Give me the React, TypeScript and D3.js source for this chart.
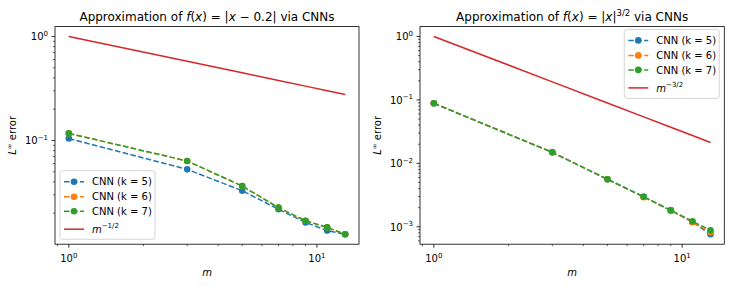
import React from 'react';
import * as d3 from 'd3';

// sample sizes m
const mValues = [1, 3, 5, 7, 9, 11, 13];

// |x - 0.2| errors
const absK5 = [0.1045, 0.0528, 0.0329, 0.0218, 0.0163, 0.0136, 0.01253];
const absK6 = [0.117, 0.0635, 0.0365, 0.0226, 0.0169, 0.0146, 0.01253];
const absK7 = [0.117, 0.0635, 0.0365, 0.0226, 0.0169, 0.0146, 0.01253];

// |x|^{3/2} errors
const powK5 = [0.0883, 0.0149, 0.0056, 0.00297, 0.00181, 0.00119, 0.00076];
const powK6 = [0.0883, 0.0149, 0.0056, 0.00292, 0.00181, 0.00118, 0.00082];
const powK7 = [0.0883, 0.0149, 0.0056, 0.00297, 0.00181, 0.00122, 0.000877];

const seriesLabels = ['CNN (k = 5)', 'CNN (k = 6)', 'CNN (k = 7)'];
const seriesColors = ['#1f77b4', '#ff7f0e', '#2ca02c'];
const refColor = '#d62728';

const FONT = 'DejaVu Sans, sans-serif';

type PanelProps = {
  left: number;
  right: number;
  series: number[][];
  rate: number;
  rateLabel: string;
  title: React.ReactNode;
  legendPos: 'lower left' | 'upper right';
};

const TOP = 26.6;
const BOTTOM = 244.2;

const logExtent = (vals: number[]): [number, number] => {
  const lo = Math.log10(d3.min(vals)!);
  const hi = Math.log10(d3.max(vals)!);
  const pad = (hi - lo) * 0.05;
  return [Math.pow(10, lo - pad), Math.pow(10, hi + pad)];
};

const logTicks = (domain: [number, number]) => {
  const major: number[] = [];
  const minor: number[] = [];
  const d0 = Math.floor(Math.log10(domain[0]));
  const d1 = Math.ceil(Math.log10(domain[1]));
  for (let d = d0; d <= d1; d++) {
    const base = Math.pow(10, d);
    if (base >= domain[0] && base <= domain[1]) major.push(d);
    for (let k = 2; k <= 9; k++) {
      const v = k * base;
      if (v >= domain[0] && v <= domain[1]) minor.push(v);
    }
  }
  return { major, minor };
};

const Pow10: React.FC<{ e: number; x: number; y: number; anchor: string }> = ({ e, x, y, anchor }) => (
  <text x={x} y={y} textAnchor={anchor} fontSize={10} fontFamily={FONT} fill="#000">
    10
    <tspan dy={-4.5} fontSize={7}>{e < 0 ? `\u2212${-e}` : `${e}`}</tspan>
  </text>
);

const Panel: React.FC<PanelProps> = ({ left, right, series, rate, rateLabel, title, legendPos }) => {
  const refVals = mValues.map((m) => Math.pow(m, -rate));
  const xDomain = logExtent(mValues);
  const yDomain = logExtent([...series.flat(), ...refVals]);
  const x = d3.scaleLog().domain(xDomain).range([left, right]);
  const y = d3.scaleLog().domain(yDomain).range([BOTTOM, TOP]);
  const xt = logTicks(xDomain);
  const yt = logTicks(yDomain);

  const line = d3
    .line<number>()
    .x((_, i) => x(mValues[i]))
    .y((d) => y(d));

  const cx = (left + right) / 2;

  const legendItems = [...seriesLabels.map((l, i) => ({ label: l, color: seriesColors[i], dashed: true })),
    { label: rateLabel, color: refColor, dashed: false }];
  const lg = legendPos === 'lower left'
    ? { x: left + 5, y: 170.7, w: 95, h: 68.6 }
    : { x: right - 100, y: TOP + 2.8, w: 95, h: 69 };
  const rowY = [11, 26, 40.5, 58.5];

  return (
    <g>
      <text x={cx} y={21} textAnchor="middle" fontSize={12} fontFamily={FONT} fill="#000">{title}</text>

      {/* reference rate */}
      <path d={line(refVals) ?? ''} fill="none" stroke={refColor} strokeWidth={1.5} />

      {series.map((s, i) => (
        <g key={i}>
          <path d={line(s) ?? ''} fill="none" stroke={seriesColors[i]} strokeWidth={1.5} strokeDasharray="5.55,2.4" />
          {s.map((v, j) => (
            <circle key={j} cx={x(mValues[j])} cy={y(v)} r={3.3} fill={seriesColors[i]} />
          ))}
        </g>
      ))}

      <rect x={left} y={TOP} width={right - left} height={BOTTOM - TOP} fill="none" stroke="#000" strokeWidth={0.8} />

      {xt.minor.map((v) => (
        <line key={v} x1={x(v)} x2={x(v)} y1={BOTTOM} y2={BOTTOM + 2} stroke="#000" strokeWidth={0.6} />
      ))}
      {xt.major.map((e) => (
        <g key={e}>
          <line x1={x(Math.pow(10, e))} x2={x(Math.pow(10, e))} y1={BOTTOM} y2={BOTTOM + 3.5} stroke="#000" strokeWidth={0.8} />
          <Pow10 e={e} x={x(Math.pow(10, e))} y={BOTTOM + 18} anchor="middle" />
        </g>
      ))}
      {yt.minor.map((v) => (
        <line key={v} x1={left} x2={left - 2} y1={y(v)} y2={y(v)} stroke="#000" strokeWidth={0.6} />
      ))}
      {yt.major.map((e) => (
        <g key={e}>
          <line x1={left} x2={left - 3.5} y1={y(Math.pow(10, e))} y2={y(Math.pow(10, e))} stroke="#000" strokeWidth={0.8} />
          <Pow10 e={e} x={left - 7} y={y(Math.pow(10, e)) + 4} anchor="end" />
        </g>
      ))}

      <text x={cx} y={276} textAnchor="middle" fontSize={10} fontFamily={FONT} fontStyle="italic" fill="#000">m</text>
      <text
        transform={`translate(${left - 39},${(TOP + BOTTOM) / 2}) rotate(-90)`}
        textAnchor="middle"
        fontSize={10}
        fontFamily={FONT}
        fill="#000"
      >
        <tspan fontStyle="italic">L</tspan>
        <tspan dy={-4} fontSize={7}>∞</tspan>
        <tspan dy={4}> error</tspan>
      </text>

      <g transform={`translate(${lg.x},${lg.y})`}>
        <rect width={lg.w} height={lg.h} rx={2.5} fill="#fff" fillOpacity={0.8} stroke="#cccccc" strokeWidth={0.8} />
        {legendItems.map((it, i) => (
          <g key={i} transform={`translate(0,${rowY[i]})`}>
            <line x1={4} x2={24} y1={0} y2={0} stroke={it.color} strokeWidth={1.5} strokeDasharray={it.dashed ? '5.55,2.4' : undefined} />
            {it.dashed && <circle cx={14} cy={0} r={3.3} fill={it.color} />}
            {it.dashed ? (
              <text x={32} y={3.6} fontSize={10} fontFamily={FONT} fill="#000">{it.label}</text>
            ) : (
              <text x={32} y={3.6} fontSize={10} fontFamily={FONT} fill="#000">
                <tspan fontStyle="italic">m</tspan>
                <tspan dy={-4.5} fontSize={7}>{it.label}</tspan>
              </text>
            )}
          </g>
        ))}
      </g>
    </g>
  );
};

const App: React.FC = () => (
  <svg width={731} height={286} style={{ position: 'absolute', left: 0, top: 0, background: '#fff' }}>
    <rect width={731} height={286} fill="#fff" />
    <Panel
      left={55}
      right={359}
      series={[absK5, absK6, absK7]}
      rate={0.5}
      rateLabel={'\u22121/2'}
      legendPos="lower left"
      title={
        <>
          Approximation of <tspan fontStyle="italic">f</tspan>(<tspan fontStyle="italic">x</tspan>) = |<tspan fontStyle="italic">x</tspan> {'\u2212'} 0.2| via CNNs
        </>
      }
    />
    <Panel
      left={420}
      right={724.3}
      series={[powK5, powK6, powK7]}
      rate={1.5}
      rateLabel={'\u22123/2'}
      legendPos="upper right"
      title={
        <>
          Approximation of <tspan fontStyle="italic">f</tspan>(<tspan fontStyle="italic">x</tspan>) = |<tspan fontStyle="italic">x</tspan>|<tspan dy={-5} fontSize={8.5}>3/2</tspan><tspan dy={5}> via CNNs</tspan>
        </>
      }
    />
  </svg>
);

export default App;
